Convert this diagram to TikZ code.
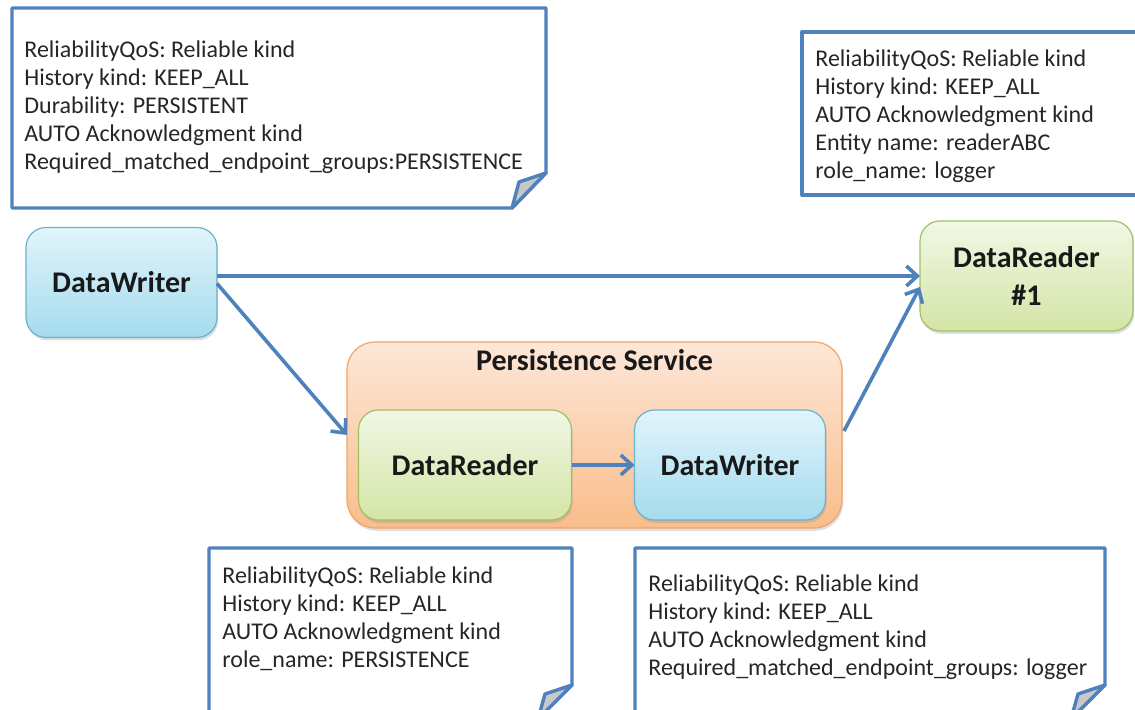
\documentclass[tikz,border=0pt]{standalone}
\usepackage{fontspec}
\setmainfont{Carlito}
\usepackage{tikz}
\usetikzlibrary{arrows.meta, positioning, shadows}
\definecolor{myblue}{RGB}{79,129,189}
\definecolor{mytext}{RGB}{38,38,38}
\definecolor{boxtext}{RGB}{25,25,25}
\definecolor{bluetop}{RGB}{226,244,251}
\definecolor{bluebot}{RGB}{164,219,238}
\definecolor{blueedge}{RGB}{108,178,204}
\definecolor{greentop}{RGB}{241,247,229}
\definecolor{greenbot}{RGB}{212,229,166}
\definecolor{greenedge}{RGB}{158,194,98}
\definecolor{orangetop}{RGB}{253,231,216}
\definecolor{orangebot}{RGB}{249,189,139}
\definecolor{orangeedge}{RGB}{243,163,99}
\definecolor{foldgray}{RGB}{200,200,200}
\tikzset{
  entity/.style={rectangle, rounded corners=10pt, line width=0.6pt,
    align=center, text=boxtext, outer sep=0pt,
    font=\fontsize{15}{19}\selectfont\bfseries,
    drop shadow={shadow xshift=0.6pt, shadow yshift=-1.4pt, opacity=0.25}},
  writer/.style={entity, draw=blueedge, top color=bluetop, bottom color=bluebot,
    minimum width=95.5pt, minimum height=55pt},
  reader/.style={entity, draw=greenedge, top color=greentop, bottom color=greenbot,
    minimum width=106.5pt, minimum height=55pt},
  service/.style={entity, rounded corners=14pt, draw=orangeedge,
    top color=orangetop, bottom color=orangebot,
    minimum width=247.5pt, minimum height=93pt},
  note/.style={draw=myblue, fill=white, line width=1.7pt, line join=round},
  fold/.style={draw=myblue, fill=foldgray, line width=1.7pt, line join=round},
  notetext/.style={anchor=north west, align=left, inner sep=0pt,
    font=\fontsize{12}{14}\selectfont, text=mytext},
  arrow/.style={-{Straight Barb[length=5.5pt,width=10pt]}, line width=1.8pt, color=myblue}
}

\begin{document}
\begin{tikzpicture}[x=0.5pt, y=-0.5pt]
  \useasboundingbox (0,0) rectangle (1135,710);
  \clip (0,0) rectangle (1135,710);

  % Entities
  \node[writer] (dw) at (121.5,282.5) {DataWriter};
  \node[reader] (dr1) at (1026.5,276) {DataReader\\\#1};
  \node[service] (svc) at (594.5,435) {};
  \node[anchor=base, inner sep=0pt, font=\fontsize{15}{19}\selectfont\bfseries, text=boxtext]
    (svctitle) at ([yshift=-14.5pt]svc.north) {Persistence Service};
  \node[reader] (rdr) at (465,465) {DataReader};
  \node[writer, right=31.5pt of rdr] (wtr) {DataWriter};

  % Connectors
  \draw[arrow] (dw.east |- dr1.west) -- (dr1.west);
  \draw[arrow] ([yshift=-0.5pt]dw.east) -- (svc.west);
  \draw[arrow] (rdr.east) -- (wtr.west);
  \draw[arrow] ([xshift=1pt, yshift=2pt]svc.east) -- ([yshift=-5.5pt]dr1.west);

  % Note on the writer
  \draw[note] (12,8) -- (546,8) -- (546,173) -- (512,208) -- (12,208) -- cycle;
  \draw[fold] (546,173) -- (519,182) -- (512,208) -- cycle;
  \node[notetext] (wnote) at (24,40) {ReliabilityQoS: Reliable kind\\
    History kind: KEEP\_ALL\\Durability: PERSISTENT\\AUTO Acknowledgment kind\\
    Required\_matched\_endpoint\_groups:PERSISTENCE};

  % Note on reader #1
  \draw[note] (802,32) rectangle (1160,195);
  \node[notetext] (r1note) at (815,49) {ReliabilityQoS: Reliable kind\\
    History kind: KEEP\_ALL\\AUTO Acknowledgment kind\\
    Entity name: readerABC\\role\_name: logger};

  % Note on the service reader
  \draw[note] (209,548) -- (572,548) -- (572,685) -- (538,719) -- (209,719) -- cycle;
  \draw[fold] (572,685) -- (545,694) -- (538,719) -- cycle;
  \node[notetext] (rnote) at (222,566) {ReliabilityQoS: Reliable kind\\
    History kind: KEEP\_ALL\\AUTO Acknowledgment kind\\role\_name: PERSISTENCE};

  % Note on the service writer
  \draw[note] (635,548) -- (1105,548) -- (1105,685) -- (1071,719) -- (635,719) -- cycle;
  \draw[fold] (1105,685) -- (1078,694) -- (1071,719) -- cycle;
  \node[notetext] (wnote2) at (648,574) {ReliabilityQoS: Reliable kind\\
    History kind: KEEP\_ALL\\AUTO Acknowledgment kind\\
    Required\_matched\_endpoint\_groups: logger};
\end{tikzpicture}
\end{document}
